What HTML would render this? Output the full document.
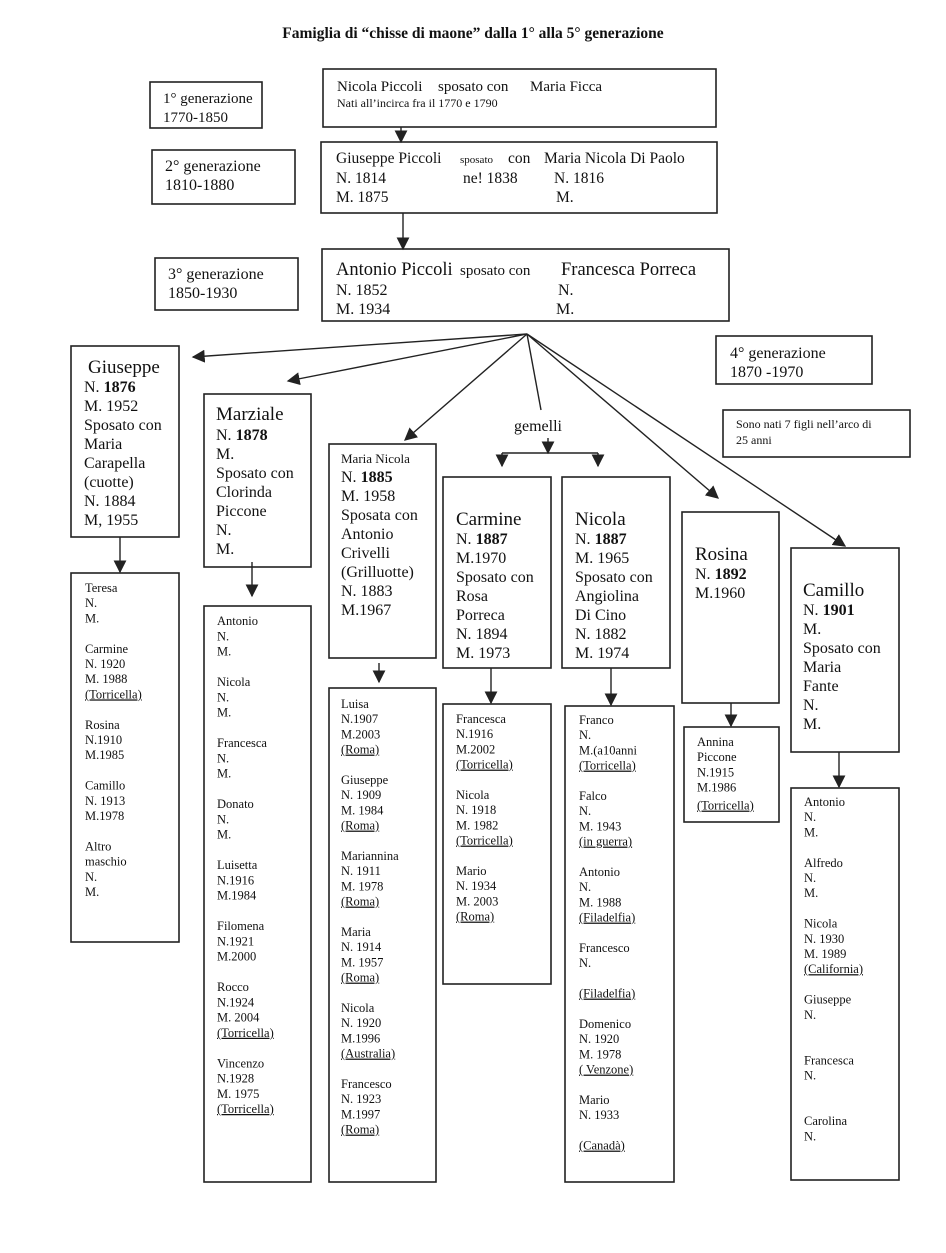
<!DOCTYPE html>
<html><head><meta charset="utf-8"><style>
html,body{margin:0;padding:0;background:#fff}
svg{display:block}
text{font-family:"Liberation Serif",serif;fill:#111}
.b{font-size:16px}.n{font-size:19px}.s{font-size:12.5px}
rect{fill:none;stroke:#222;stroke-width:1.6}
line{stroke:#222;stroke-width:1.4}
.u{text-decoration:underline}
</style></head><body>
<svg width="946" height="1253" viewBox="0 0 946 1253" xmlns="http://www.w3.org/2000/svg">
<defs><marker id="a" viewBox="0 0 10 10" refX="9" refY="5" markerWidth="13" markerHeight="13" orient="auto" markerUnits="userSpaceOnUse"><path d="M0,0L10,5L0,10z" fill="#222"/></marker></defs>

<text x="473" y="38" text-anchor="middle" style="font-size:15.5px;font-weight:bold">Famiglia di “chisse di maone” dalla 1° alla 5° generazione</text>

<rect x="150" y="82" width="112" height="46"/>
<text style="font-size:15px" x="163" y="103">1° generazione</text><text style="font-size:15px" x="163" y="122">1770-1850</text>
<rect x="323" y="69" width="393" height="58"/>
<text style="font-size:15px" x="337" y="91">Nicola Piccoli</text>
<text style="font-size:15px" x="438" y="91">sposato con</text>
<text style="font-size:15px" x="530" y="91">Maria Ficca</text>
<text style="font-size:12px" x="337" y="107">Nati all’incirca fra il 1770 e 1790</text>

<rect x="152" y="150" width="143" height="54"/>
<text class="b" x="165" y="171">2° generazione</text><text class="b" x="165" y="190">1810-1880</text>
<rect x="321" y="142" width="396" height="71"/>
<text style="font-size:15.5px" x="336" y="163">Giuseppe Piccoli</text>
<text style="font-size:11px" x="460" y="163">sposato</text>
<text style="font-size:15.5px" x="508" y="163">con</text>
<text style="font-size:15.5px" x="544" y="163">Maria Nicola Di Paolo</text>
<text style="font-size:15.5px" x="336" y="183">N. 1814</text><text style="font-size:15.5px" x="463" y="183">ne! 1838</text><text style="font-size:15.5px" x="554" y="183">N. 1816</text>
<text style="font-size:15.5px" x="336" y="202">M. 1875</text><text style="font-size:15.5px" x="556" y="202">M.</text>

<rect x="155" y="258" width="143" height="52"/>
<text class="b" x="168" y="279">3° generazione</text><text class="b" x="168" y="298">1850-1930</text>
<rect x="322" y="249" width="407" height="72"/>
<text style="font-size:18.5px" x="336" y="275">Antonio Piccoli</text>
<text style="font-size:15px" x="460" y="275">sposato con</text>
<text style="font-size:18.5px" x="561" y="275">Francesca Porreca</text>
<text class="b" x="336" y="295">N. 1852</text><text class="b" x="558" y="295">N.</text>
<text class="b" x="336" y="314">M. 1934</text><text class="b" x="556" y="314">M.</text>

<line x1="401" y1="127" x2="401" y2="142" marker-end="url(#a)"/>
<line x1="403" y1="213" x2="403" y2="249" marker-end="url(#a)"/>

<rect x="716" y="336" width="156" height="48"/>
<text class="b" x="730" y="358">4° generazione</text><text class="b" x="730" y="377">1870 -1970</text>
<rect x="723" y="410" width="187" height="47"/>
<text style="font-size:12px" x="736" y="428">Sono nati 7 figli nell’arco di</text>
<text style="font-size:12px" x="736" y="444">25 anni</text>

<line x1="527" y1="334" x2="193" y2="357" marker-end="url(#a)"/>
<line x1="527" y1="334" x2="288" y2="381" marker-end="url(#a)"/>
<line x1="527" y1="334" x2="405" y2="440" marker-end="url(#a)"/>
<line x1="527" y1="334" x2="541" y2="410"/>
<line x1="527" y1="334" x2="718" y2="498" marker-end="url(#a)"/>
<line x1="527" y1="334" x2="845" y2="546" marker-end="url(#a)"/>
<text class="b" x="538" y="431" text-anchor="middle">gemelli</text>
<line x1="548" y1="438" x2="548" y2="453" marker-end="url(#a)"/>
<line x1="502" y1="453" x2="598" y2="453"/>
<line x1="502" y1="453" x2="502" y2="466" marker-end="url(#a)"/>
<line x1="598" y1="453" x2="598" y2="466" marker-end="url(#a)"/>

<rect x="71" y="346" width="108" height="191"/>
<text class="n" x="88" y="373">Giuseppe</text>
<text class="b"><tspan x="84" y="392">N. <tspan font-weight="bold">1876</tspan></tspan><tspan x="84" dy="19">M. 1952</tspan><tspan x="84" dy="19">Sposato con</tspan><tspan x="84" dy="19">Maria</tspan><tspan x="84" dy="19">Carapella</tspan><tspan x="84" dy="19">(cuotte)</tspan><tspan x="84" dy="19">N. 1884</tspan><tspan x="84" dy="19">M, 1955</tspan></text>

<rect x="204" y="394" width="107" height="173"/>
<text class="n" x="216" y="420">Marziale</text>
<text class="b"><tspan x="216" y="440">N. <tspan font-weight="bold">1878</tspan></tspan><tspan x="216" dy="19">M.</tspan><tspan x="216" dy="19">Sposato con</tspan><tspan x="216" dy="19">Clorinda</tspan><tspan x="216" dy="19">Piccone</tspan><tspan x="216" dy="19">N.</tspan><tspan x="216" dy="19">M.</tspan></text>

<rect x="329" y="444" width="107" height="214"/>
<text style="font-size:13px" x="341" y="463">Maria Nicola</text>
<text class="b"><tspan x="341" y="482">N. <tspan font-weight="bold">1885</tspan></tspan><tspan x="341" dy="19">M. 1958</tspan><tspan x="341" dy="19">Sposata con</tspan><tspan x="341" dy="19">Antonio</tspan><tspan x="341" dy="19">Crivelli</tspan><tspan x="341" dy="19">(Grilluotte)</tspan><tspan x="341" dy="19">N. 1883</tspan><tspan x="341" dy="19">M.1967</tspan></text>

<rect x="443" y="477" width="108" height="191"/>
<text class="n" x="456" y="525">Carmine</text>
<text class="b"><tspan x="456" y="544">N. <tspan font-weight="bold">1887</tspan></tspan><tspan x="456" dy="19">M.1970</tspan><tspan x="456" dy="19">Sposato con</tspan><tspan x="456" dy="19">Rosa</tspan><tspan x="456" dy="19">Porreca</tspan><tspan x="456" dy="19">N. 1894</tspan><tspan x="456" dy="19">M. 1973</tspan></text>

<rect x="562" y="477" width="108" height="191"/>
<text class="n" x="575" y="525">Nicola</text>
<text class="b"><tspan x="575" y="544">N. <tspan font-weight="bold">1887</tspan></tspan><tspan x="575" dy="19">M. 1965</tspan><tspan x="575" dy="19">Sposato con</tspan><tspan x="575" dy="19">Angiolina</tspan><tspan x="575" dy="19">Di Cino</tspan><tspan x="575" dy="19">N. 1882</tspan><tspan x="575" dy="19">M. 1974</tspan></text>

<rect x="682" y="512" width="97" height="191"/>
<text class="n" x="695" y="560">Rosina</text>
<text class="b"><tspan x="695" y="579">N. <tspan font-weight="bold">1892</tspan></tspan><tspan x="695" dy="19">M.1960</tspan></text>

<rect x="791" y="548" width="108" height="204"/>
<text class="n" x="803" y="596">Camillo</text>
<text class="b"><tspan x="803" y="615">N. <tspan font-weight="bold">1901</tspan></tspan><tspan x="803" dy="19">M.</tspan><tspan x="803" dy="19">Sposato con</tspan><tspan x="803" dy="19">Maria</tspan><tspan x="803" dy="19">Fante</tspan><tspan x="803" dy="19">N.</tspan><tspan x="803" dy="19">M.</tspan></text>

<line x1="120" y1="537" x2="120" y2="572" marker-end="url(#a)"/>
<line x1="252" y1="562" x2="252" y2="596" marker-end="url(#a)"/>
<line x1="379" y1="663" x2="379" y2="682" marker-end="url(#a)"/>
<line x1="491" y1="668" x2="491" y2="703" marker-end="url(#a)"/>
<line x1="611" y1="668" x2="611" y2="705" marker-end="url(#a)"/>
<line x1="731" y1="703" x2="731" y2="726" marker-end="url(#a)"/>
<line x1="839" y1="752" x2="839" y2="787" marker-end="url(#a)"/>

<rect x="71" y="573" width="108" height="369"/>
<text class="s"><tspan x="85" y="592">Teresa</tspan><tspan x="85" dy="15.2">N.</tspan><tspan x="85" dy="15.2">M.</tspan><tspan x="85" dy="30.4">Carmine</tspan><tspan x="85" dy="15.2">N. 1920</tspan><tspan x="85" dy="15.2">M. 1988</tspan><tspan x="85" dy="15.2" class="u">(Torricella)</tspan><tspan x="85" dy="30.4">Rosina</tspan><tspan x="85" dy="15.2">N.1910</tspan><tspan x="85" dy="15.2">M.1985</tspan><tspan x="85" dy="30.4">Camillo</tspan><tspan x="85" dy="15.2">N. 1913</tspan><tspan x="85" dy="15.2">M.1978</tspan><tspan x="85" dy="30.4">Altro</tspan><tspan x="85" dy="15.2">maschio</tspan><tspan x="85" dy="15.2">N.</tspan><tspan x="85" dy="15.2">M.</tspan></text>

<rect x="204" y="606" width="107" height="576"/>
<text class="s"><tspan x="217" y="625">Antonio</tspan><tspan x="217" dy="15.25">N.</tspan><tspan x="217" dy="15.25">M.</tspan><tspan x="217" dy="30.5">Nicola</tspan><tspan x="217" dy="15.25">N.</tspan><tspan x="217" dy="15.25">M.</tspan><tspan x="217" dy="30.5">Francesca</tspan><tspan x="217" dy="15.25">N.</tspan><tspan x="217" dy="15.25">M.</tspan><tspan x="217" dy="30.5">Donato</tspan><tspan x="217" dy="15.25">N.</tspan><tspan x="217" dy="15.25">M.</tspan><tspan x="217" dy="30.5">Luisetta</tspan><tspan x="217" dy="15.25">N.1916</tspan><tspan x="217" dy="15.25">M.1984</tspan><tspan x="217" dy="30.5">Filomena</tspan><tspan x="217" dy="15.25">N.1921</tspan><tspan x="217" dy="15.25">M.2000</tspan><tspan x="217" dy="30.5">Rocco</tspan><tspan x="217" dy="15.25">N.1924</tspan><tspan x="217" dy="15.25">M. 2004</tspan><tspan x="217" dy="15.25" class="u">(Torricella)</tspan><tspan x="217" dy="30.5">Vincenzo</tspan><tspan x="217" dy="15.25">N.1928</tspan><tspan x="217" dy="15.25">M. 1975</tspan><tspan x="217" dy="15.25" class="u">(Torricella)</tspan></text>

<rect x="329" y="688" width="107" height="494"/>
<text class="s"><tspan x="341" y="708">Luisa</tspan><tspan x="341" dy="15.2">N.1907</tspan><tspan x="341" dy="15.2">M.2003</tspan><tspan x="341" dy="15.2" class="u">(Roma)</tspan><tspan x="341" dy="30.4">Giuseppe</tspan><tspan x="341" dy="15.2">N. 1909</tspan><tspan x="341" dy="15.2">M. 1984</tspan><tspan x="341" dy="15.2" class="u">(Roma)</tspan><tspan x="341" dy="30.4">Mariannina</tspan><tspan x="341" dy="15.2">N. 1911</tspan><tspan x="341" dy="15.2">M. 1978</tspan><tspan x="341" dy="15.2" class="u">(Roma)</tspan><tspan x="341" dy="30.4">Maria</tspan><tspan x="341" dy="15.2">N. 1914</tspan><tspan x="341" dy="15.2">M. 1957</tspan><tspan x="341" dy="15.2" class="u">(Roma)</tspan><tspan x="341" dy="30.4">Nicola</tspan><tspan x="341" dy="15.2">N. 1920</tspan><tspan x="341" dy="15.2">M.1996</tspan><tspan x="341" dy="15.2" class="u">(Australia)</tspan><tspan x="341" dy="30.4">Francesco</tspan><tspan x="341" dy="15.2">N. 1923</tspan><tspan x="341" dy="15.2">M.1997</tspan><tspan x="341" dy="15.2" class="u">(Roma)</tspan></text>

<rect x="443" y="704" width="108" height="280"/>
<text class="s"><tspan x="456" y="723">Francesca</tspan><tspan x="456" dy="15.2">N.1916</tspan><tspan x="456" dy="15.2">M.2002</tspan><tspan x="456" dy="15.2" class="u">(Torricella)</tspan><tspan x="456" dy="30.4">Nicola</tspan><tspan x="456" dy="15.2">N. 1918</tspan><tspan x="456" dy="15.2">M. 1982</tspan><tspan x="456" dy="15.2" class="u">(Torricella)</tspan><tspan x="456" dy="30.4">Mario</tspan><tspan x="456" dy="15.2">N. 1934</tspan><tspan x="456" dy="15.2">M. 2003</tspan><tspan x="456" dy="15.2" class="u">(Roma)</tspan></text>

<rect x="565" y="706" width="109" height="476"/>
<text class="s"><tspan x="579" y="724">Franco</tspan><tspan x="579" dy="15.2">N.</tspan><tspan x="579" dy="15.2">M.(a10anni</tspan><tspan x="579" dy="15.2" class="u">(Torricella)</tspan><tspan x="579" dy="30.4">Falco</tspan><tspan x="579" dy="15.2">N.</tspan><tspan x="579" dy="15.2">M. 1943</tspan><tspan x="579" dy="15.2" class="u">(in guerra)</tspan><tspan x="579" dy="30.4">Antonio</tspan><tspan x="579" dy="15.2">N.</tspan><tspan x="579" dy="15.2">M. 1988</tspan><tspan x="579" dy="15.2" class="u">(Filadelfia)</tspan><tspan x="579" dy="30.4">Francesco</tspan><tspan x="579" dy="15.2">N.</tspan><tspan x="579" dy="30.4" class="u">(Filadelfia)</tspan><tspan x="579" dy="30.4">Domenico</tspan><tspan x="579" dy="15.2">N. 1920</tspan><tspan x="579" dy="15.2">M. 1978</tspan><tspan x="579" dy="15.2" class="u">( Venzone)</tspan><tspan x="579" dy="30.4">Mario</tspan><tspan x="579" dy="15.2">N. 1933</tspan><tspan x="579" dy="30.4" class="u">(Canadà)</tspan></text>

<rect x="684" y="727" width="95" height="95"/>
<text class="s"><tspan x="697" y="746">Annina</tspan><tspan x="697" dy="15.2">Piccone</tspan><tspan x="697" dy="15.2">N.1915</tspan><tspan x="697" dy="15.2">M.1986</tspan><tspan x="697" dy="18" class="u">(Torricella)</tspan></text>

<rect x="791" y="788" width="108" height="392"/>
<text class="s"><tspan x="804" y="806">Antonio</tspan><tspan x="804" dy="15.2">N.</tspan><tspan x="804" dy="15.2">M.</tspan><tspan x="804" dy="30.4">Alfredo</tspan><tspan x="804" dy="15.2">N.</tspan><tspan x="804" dy="15.2">M.</tspan><tspan x="804" dy="30.4">Nicola</tspan><tspan x="804" dy="15.2">N. 1930</tspan><tspan x="804" dy="15.2">M. 1989</tspan><tspan x="804" dy="15.2" class="u">(California)</tspan><tspan x="804" dy="30.4">Giuseppe</tspan><tspan x="804" dy="15.2">N.</tspan><tspan x="804" dy="45.6">Francesca</tspan><tspan x="804" dy="15.2">N.</tspan><tspan x="804" dy="45.6">Carolina</tspan><tspan x="804" dy="15.2">N.</tspan></text>
</svg>
</body></html>
